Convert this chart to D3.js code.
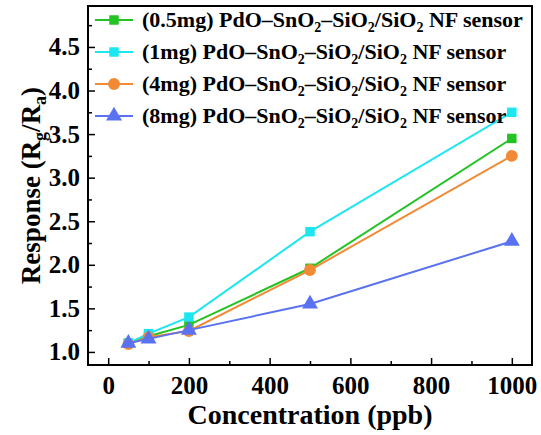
<!DOCTYPE html>
<html lang="en">
<head>
    <meta charset="UTF-8">
    <title>Response vs Concentration</title>
    <style>
      body { margin: 0; background: #fff; }
      text { font-family: "Liberation Serif", "Times New Roman", serif; font-weight: bold; }
      .x-axis text, .y-axis text { font-size: 25px; }
    </style>
</head>
<body>
    <svg></svg>
    <script src="https://d3js.org/d3.v7.min.js"></script>
    <script>
      // concentrations (ppb)
      const conc = [50, 100, 200, 500, 1000];
      const labels = ["(0.5mg)", "(1mg)", "(4mg)", "(8mg)"];
      const resp05 = [1.10, 1.18, 1.31, 1.96, 3.45];
      const resp1 = [1.10, 1.21, 1.40, 2.38, 3.75];
      const resp4 = [1.09, 1.17, 1.24, 1.94, 3.25];
      const resp8 = [1.10, 1.15, 1.25, 1.55, 2.27];
      const xTicks = [0, 200, 400, 600, 800, 1000];
      const yTicks = [1.0, 1.5, 2.0, 2.5, 3.0, 3.5, 4.0, 4.5];

      const series = [
        {label: labels[0], values: resp05, color: "#22c322", symbol: d3.symbolSquare, size: 90},
        {label: labels[1], values: resp1, color: "#1de6f0", symbol: d3.symbolSquare, size: 90},
        {label: labels[2], values: resp4, color: "#f28a35", symbol: d3.symbolCircle, size: 110},
        {label: labels[3], values: resp8, color: "#5a72f2", symbol: d3.symbolTriangle, size: 110}
      ];

      const width = 541;
      const height = 435;
      const padding = {top: 6, right: 9, bottom: 70, left: 88};

      const svg = d3.select('svg').attr('width', width).attr('height', height)

      const xScale = d3.scaleLinear()
          .domain([-50, 1050])
          .range([padding.left, width - padding.right])

      const yScale = d3.scaleLinear()
          .domain([0.85, 4.97])
          .range([height - padding.bottom, padding.top])

      // axes with inward ticks
      const xAxis = g => g
          .attr("transform", `translate(0,${height - padding.bottom})`)
          .call(d3.axisBottom(xScale).tickValues(xTicks).tickSize(-7).tickPadding(11).tickFormat(d3.format("d")))
          .call(g => g.select(".domain").remove())

      const xMinor = g => g
          .attr("transform", `translate(0,${height - padding.bottom})`)
          .call(d3.axisBottom(xScale).tickValues([100, 300, 500, 700, 900]).tickSize(-4).tickFormat(""))
          .call(g => g.select(".domain").remove())

      const yAxis = g => g
          .attr("transform", `translate(${padding.left},0)`)
          .call(d3.axisLeft(yScale).tickValues(yTicks).tickSize(-7).tickPadding(8).tickFormat(d3.format(".1f")))
          .call(g => g.select(".domain").remove())

      const yMinor = g => g
          .attr("transform", `translate(${padding.left},0)`)
          .call(d3.axisLeft(yScale).tickValues(yTicks.map(v => v + 0.25)).tickSize(-4).tickFormat(""))
          .call(g => g.select(".domain").remove())

      svg.append("g").attr("class", "x-axis").call(xAxis).attr("font-size", 25);
      svg.append("g").call(xMinor);
      svg.append("g").attr("class", "y-axis").call(yAxis).attr("font-size", 25);
      svg.append("g").call(yMinor);

      svg.selectAll(".tick line").attr("stroke", "#000").attr("stroke-width", 1.5);
      svg.selectAll(".tick text").attr("fill", "#000");

      // frame
      svg.append("rect")
          .attr("x", padding.left)
          .attr("y", padding.top)
          .attr("width", width - padding.left - padding.right)
          .attr("height", height - padding.top - padding.bottom)
          .attr("fill", "none")
          .attr("stroke", "#000")
          .attr("stroke-width", 2);

      const line = d3.line()
          .x((d, i) => xScale(conc[i]))
          .y(d => yScale(d));

      series.forEach(s => {
        svg.append("path")
            .attr("d", line(s.values))
            .attr("fill", "none")
            .attr("stroke", s.color)
            .attr("stroke-width", 2);
        svg.append("g").selectAll("path")
          .data(s.values)
          .join("path")
            .attr("transform", (d, i) => `translate(${xScale(conc[i])},${yScale(d)})`)
            .attr("d", d3.symbol(s.symbol, s.size))
            .attr("fill", s.color);
      });

      // legend
      const legend = svg.append("g").attr("transform", "translate(95,20)");
      series.forEach((s, i) => {
        const g = legend.append("g").attr("transform", `translate(0,${i * 32})`);
        g.append("line").attr("x1", 0).attr("x2", 38).attr("stroke", s.color).attr("stroke-width", 2);
        g.append("path").attr("transform", "translate(19,0)").attr("d", d3.symbol(s.symbol, s.size)).attr("fill", s.color);
        const t = g.append("text").attr("x", 47).attr("y", 7).attr("font-size", 22).attr("fill", "#000");
        t.append("tspan").text(s.label + " PdO–SnO");
        t.append("tspan").text("2").attr("font-size", 14).attr("dy", 5);
        t.append("tspan").text("–SiO").attr("dy", -5);
        t.append("tspan").text("2").attr("font-size", 14).attr("dy", 5);
        t.append("tspan").text("/SiO").attr("dy", -5);
        t.append("tspan").text("2").attr("font-size", 14).attr("dy", 5);
        t.append("tspan").text(" NF sensor").attr("dy", -5);
      });

      // axis titles
      svg.append("text")
          .attr("x", (padding.left + width - padding.right) / 2)
          .attr("y", 424)
          .attr("text-anchor", "middle")
          .attr("font-size", 28)
          .text("Concentration (ppb)");

      const yt = svg.append("text")
          .attr("transform", `translate(40,${(padding.top + height - padding.bottom) / 2}) rotate(-90)`)
          .attr("text-anchor", "middle")
          .attr("font-size", 27);
      yt.append("tspan").text("Response (R");
      yt.append("tspan").text("g").attr("font-size", 18).attr("dy", 6);
      yt.append("tspan").text("/R").attr("dy", -6);
      yt.append("tspan").text("a").attr("font-size", 18).attr("dy", 6);
      yt.append("tspan").text(")").attr("dy", -6);
    </script>
</body>
</html>
